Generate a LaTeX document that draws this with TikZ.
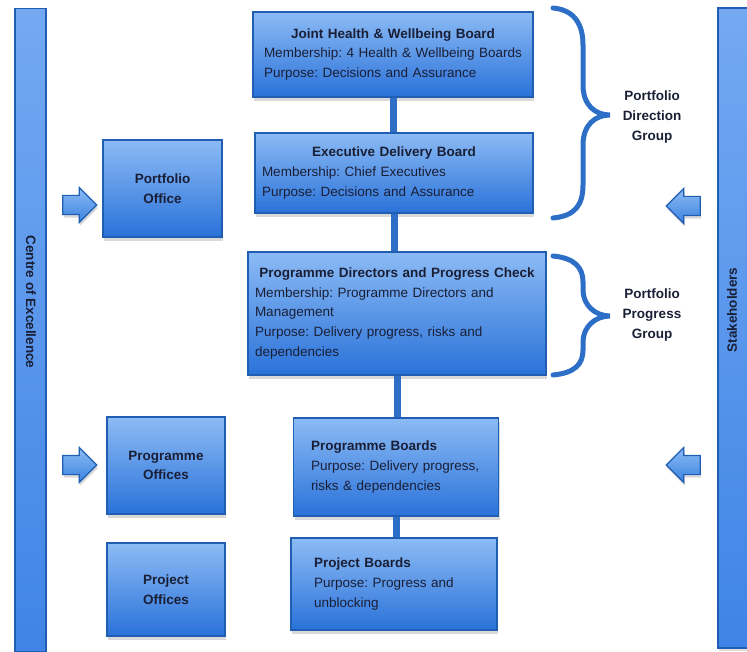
\documentclass[tikz,border=0pt]{standalone}
\usepackage{xcolor}
\usepackage{fontspec}
\setmainfont{Liberation Sans}
\frenchspacing
\usetikzlibrary{shapes.arrows, shadows, calc}

\definecolor{boxtop}{HTML}{8CBBF5}
\definecolor{boxbot}{HTML}{2A72D9}
\definecolor{boxline}{HTML}{1F5EB3}
\definecolor{inktext}{HTML}{1A1F36}
\definecolor{bartop}{HTML}{74A9F2}
\definecolor{barbot}{HTML}{3F84E6}
\definecolor{linkblue}{HTML}{2D6FC6}
\definecolor{arrowtop}{HTML}{8DBCF6}
\definecolor{arrowbot}{HTML}{3A82DE}

\begin{document}
\begin{tikzpicture}[x=1pt, y=-1pt, font=\fontsize{13.5}{19.6}\selectfont,
    board/.style={draw=boxline, line width=1.4pt, top color=boxtop, bottom color=boxbot,
        text=inktext, align=left, inner sep=0pt,
        drop shadow={shadow xshift=1pt, shadow yshift=-4pt, opacity=.3}},
    office/.style={board, align=center, font=\fontsize{13.5}{19.6}\selectfont\bfseries},
    sidebar/.style={draw=boxline, line width=1.4pt, top color=bartop, bottom color=barbot,
        inner sep=0pt, drop shadow={shadow xshift=1pt, shadow yshift=-3pt, opacity=.25}},
    barlabel/.style={text=inktext, font=\fontsize{13.5}{16}\selectfont\bfseries},
    grouplabel/.style={text=inktext, align=center, font=\fontsize{13.5}{19.6}\selectfont\bfseries},
    link/.style={linkblue, line width=7pt},
    bracket/.style={linkblue, line width=5pt, line cap=round},
    bigarrow/.style={single arrow, draw=boxline, line width=1.2pt, top color=arrowtop,
        bottom color=arrowbot, minimum height=34pt, inner xsep=0pt, inner ysep=9pt,
        single arrow head extend=8pt,
        drop shadow={shadow xshift=1pt, shadow yshift=-3pt, opacity=.3}}]
    \useasboundingbox (0,0) rectangle (747,652);

    % side bars
    \node[sidebar, minimum width=31pt, minimum height=643pt] (coe) at (30.5,330) {};
    \node[barlabel, rotate=-90] (coetext) at (31,302) {Centre of Excellence};
    \node[sidebar, minimum width=34pt, minimum height=640pt] (stake) at (735,328) {};
    \node[barlabel, rotate=90] (staketext) at (732,310) {Stakeholders};

    % boards
    \node[board, minimum width=280pt, minimum height=85pt, text width=258pt] (joint) at (393,54.5)
        {{\centering\bfseries Joint Health \& Wellbeing Board\par}Membership: 4 Health \& Wellbeing Boards\\Purpose: Decisions and Assurance};
    \node[board, minimum width=278pt, minimum height=80pt, text width=264pt] (exec) at (394,173)
        {{\centering\bfseries Executive Delivery Board\par}Membership: Chief Executives\\Purpose: Decisions and Assurance};
    \node[board, minimum width=298pt, minimum height=123pt, text width=284pt] (pdc) at (397,313.5)
        {{\centering\bfseries Programme Directors and Progress Check\par}Membership: Programme Directors and\\Management\\Purpose: Delivery progress, risks and\\dependencies};
    \node[board, minimum width=205pt, minimum height=98pt, text width=170pt] (progboards) at (396,467)
        {\textbf{Programme Boards}\\\mbox{Purpose: Delivery progress,}\\risks \& dependencies};
    \node[board, minimum width=206pt, minimum height=92pt, text width=160pt] (projboards) at (394,584)
        {\textbf{Project Boards}\\Purpose: Progress and\\unblocking};

    \draw[link] (joint.south) -- (joint.south |- exec.north);
    \draw[link] (exec.south) -- (exec.south |- pdc.north);
    \draw[link] (pdc.south) -- (pdc.south |- progboards.north);
    \draw[link] (progboards.south) -- (progboards.south |- projboards.north);

    % offices
    \node[office, minimum width=119pt, minimum height=97pt] (portoffice) at (162.5,188.5) {Portfolio\\Office};
    \node[office, minimum width=118pt, minimum height=97pt] (progoffices) at (166,465.5) {Programme\\Offices};
    \node[office, minimum width=118pt, minimum height=93pt] (projoffices) at (166,589.5) {Project\\Offices};

    % arrows
    \node[bigarrow] (inporttop) at (75,205) {};
    \node[bigarrow] (inprogbot) at (75,465) {};
    \node[bigarrow, shape border rotate=180] (instaketop) at (688,206) {};
    \node[bigarrow, shape border rotate=180] (instakebot) at (688,465) {};

    % groups
    \draw[bracket] (553,8) .. controls (575,10) and (583,25) .. (583,45) -- (583,85)
        .. controls (583,105) and (595,115) .. (610,115)
        .. controls (595,115) and (583,125) .. (583,145) -- (583,185)
        .. controls (583,205) and (575,216) .. (553,218);
    \node[grouplabel] (direction) at (652,117) {Portfolio\\Direction\\Group};
    \draw[bracket] (553,256) .. controls (575,258) and (583,268) .. (583,282) -- (583,290)
        .. controls (583,305) and (595,316) .. (610,316)
        .. controls (595,316) and (583,327) .. (583,342) -- (583,350)
        .. controls (583,364) and (575,373) .. (553,375);
    \node[grouplabel] (progress) at (652,315) {Portfolio\\Progress\\Group};
\end{tikzpicture}
\end{document}
